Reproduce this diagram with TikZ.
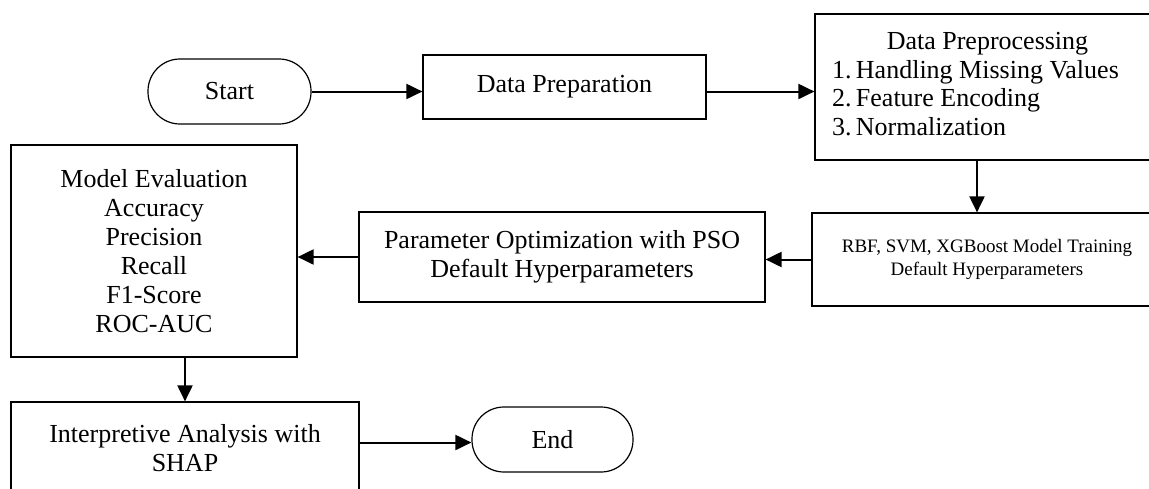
\documentclass[tikz,border=0pt]{standalone}
\usepackage{fontspec}
\setmainfont{Liberation Serif}
\usetikzlibrary{arrows.meta,calc}

\begin{document}
\begin{tikzpicture}[x=1pt,y=-1pt,
  box/.style={draw,line width=1.2pt,inner sep=0pt,align=center,
    font=\fontsize{26}{29}\selectfont},
  term/.style={box,rounded corners=32pt},
  arr/.style={line width=2pt,-{Triangle[length=16pt,width=15pt]}}]
  % page frame, clipping the boxes that run past the edge
  \clip (0,0) rectangle (1149,488);
  \fill[white] (0,0) rectangle (1149,488);

  % top row
  \node[term,minimum width=163pt,minimum height=65pt] (start) at (229.5,91.5) {Start};
  \node[box,minimum width=283pt,minimum height=64pt] (prep) at (564.5,87)
    {\raisebox{4pt}{Data Preparation}};
  \node[box,minimum width=345pt,minimum height=146pt,
    font=\fontsize{26}{28.5}\selectfont] (pre) at (987.5,87)
    {\hspace*{-24pt}\begin{tabular}{@{}l@{\,}l@{}}
       \multicolumn{2}{c}{\hspace*{24pt}Data Preprocessing}\\
       1. & Handling Missing Values\\
       2.\kern-2pt & Feature Encoding\\
       3.\kern-2pt & Normalization
     \end{tabular}};

  % middle row
  \node[box,minimum width=350pt,minimum height=93pt,
    font=\fontsize{19}{23}\selectfont] (rbf) at (987,259.5)
    {RBF, SVM, XGBoost Model Training\\Default Hyperparameters};
  \node[box,minimum width=406pt,minimum height=90pt] (par) at (562,257)
    {Parameter Optimization with PSO\\Default Hyperparameters};
  \node[box,minimum width=286pt,minimum height=212pt] (mod) at (154,251)
    {Model Evaluation\\Accuracy\\Precision\\Recall\\F1-Score\\ROC-AUC};

  % bottom row
  \node[box,minimum width=348pt,minimum height=92pt] (int) at (185,448)
    {Interpretive Analysis with\\SHAP};
  \node[term,minimum width=161pt,minimum height=65pt] (end) at (552.5,439.5) {End};

  % connectors
  \draw[arr] (start.east) -- (start.east -| prep.west);
  \draw[arr] (start.east -| prep.east) -- (start.east -| pre.west);
  \draw[arr] ([xshift=-10.5pt]pre.south) -- ([xshift=-10.5pt]pre.south |- rbf.north);
  \draw[arr] (rbf.west) -- (rbf.west -| par.east);
  \draw[arr] (par.west) -- (par.west -| mod.east);
  \draw[arr] (int.north |- mod.south) -- (int.north);
  \coordinate (endin) at ([yshift=-3pt]end.west);
  \draw[arr] (int.east |- endin) -- (endin);
\end{tikzpicture}
\end{document}
